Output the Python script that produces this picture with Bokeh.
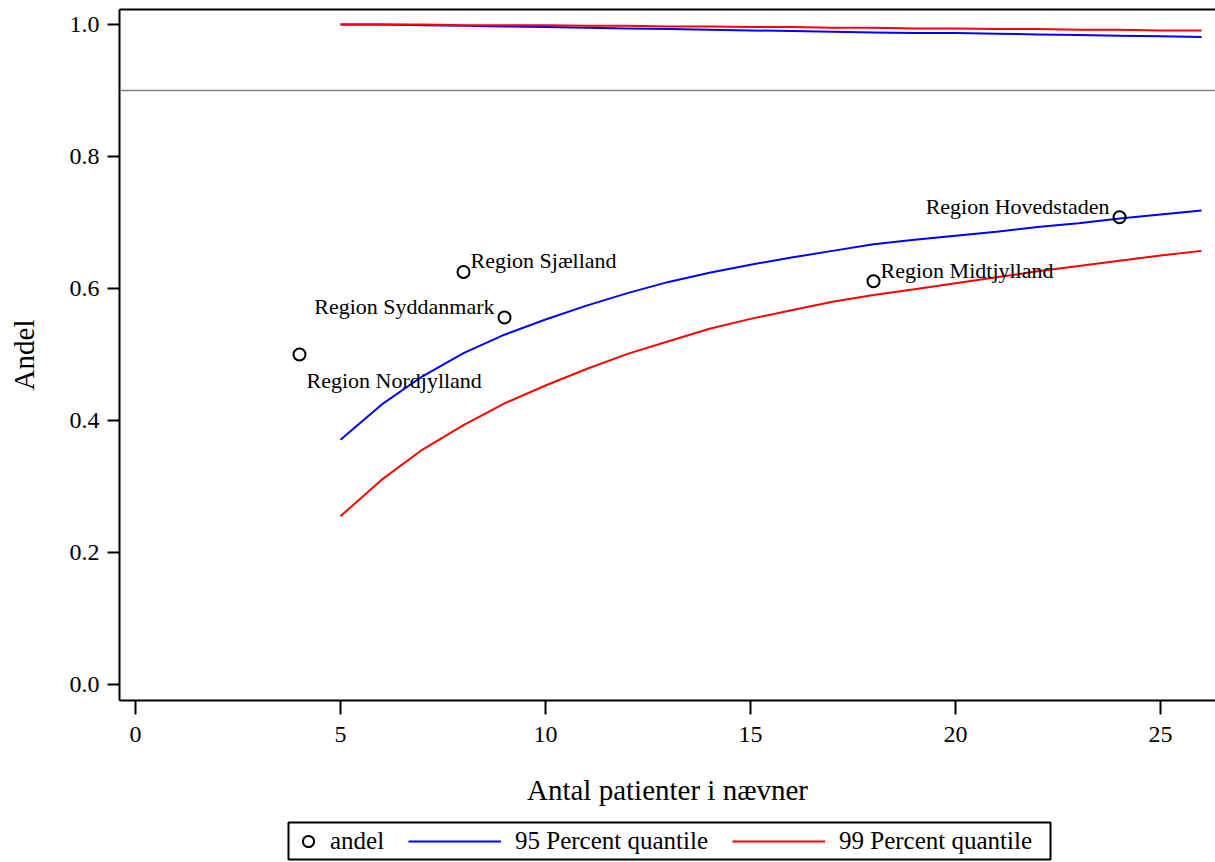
from bokeh.plotting import figure
from bokeh.layouts import column
from bokeh.models import (Legend, LegendItem, Span, ColumnDataSource, FixedTicker,
                          NumeralTickFormatter, Range1d, BoxAnnotation, LinearAxis)
from bokeh.core.properties import value
from bokeh.embed import file_html
from bokeh.resources import INLINE

# ---- data ----
regions = ["Region Nordjylland", "Region Sjælland", "Region Syddanmark",
           "Region Midtjylland", "Region Hovedstaden"]
n_patients = [4, 8, 9, 18, 24]
andel = [0.500, 0.625, 0.556, 0.611, 0.708]
label_side = ["below_right", "above_right", "above_left", "above_right", "above_left"]

n_curve = [5, 6, 7, 8, 9, 10, 11, 12, 13, 14, 15, 16, 17, 18, 19, 20, 21, 22, 23, 24, 25, 26]
q95_lower = [0.371, 0.424, 0.467, 0.502, 0.530, 0.553, 0.574, 0.593, 0.610, 0.624, 0.636,
             0.647, 0.657, 0.667, 0.674, 0.680, 0.686, 0.693, 0.699, 0.706, 0.712, 0.718]
q99_lower = [0.255, 0.310, 0.356, 0.393, 0.426, 0.453, 0.478, 0.501, 0.520, 0.539, 0.554,
             0.567, 0.580, 0.590, 0.599, 0.608, 0.617, 0.626, 0.634, 0.642, 0.650, 0.657]
q95_upper = [1.000, 1.000, 0.999, 0.998, 0.997, 0.996, 0.995, 0.994, 0.993, 0.992, 0.991,
             0.990, 0.989, 0.988, 0.987, 0.987, 0.986, 0.985, 0.984, 0.983, 0.982, 0.981]
q99_upper = [1.000, 1.000, 1.000, 0.999, 0.999, 0.999, 0.998, 0.998, 0.997, 0.997, 0.996,
             0.996, 0.995, 0.995, 0.994, 0.994, 0.993, 0.993, 0.992, 0.992, 0.991, 0.991]
target = 0.9
legend_labels = ["andel", "95 Percent quantile", "99 Percent quantile"]
x_ticks = [0, 5, 10, 15, 20, 25]
y_ticks = [0.0, 0.2, 0.4, 0.6, 0.8, 1.0]

# ---- style ----
FONT = "Liberation Serif"
BLUE, RED = "#0000FF", "#FF0000"
LEFT = 119
side_style = {
    "below_right": (7, 26, "left"),
    "above_right": (7, -11, "left"),
    "above_left": (-10, -11, "right"),
}

p = figure(width=1215, height=812, output_backend="svg", toolbar_location=None,
           x_range=Range1d(-0.39, 26.34), y_range=Range1d(-0.0242, 1.0227),
           min_border_left=LEFT, min_border_right=0, min_border_top=9, min_border_bottom=112)
p.grid.visible = False
p.outline_line_color = None
xax = p.below[0]
yax = p.left[0]

p.add_layout(Span(location=target, dimension="width", line_color="#808080", line_width=1.5))

p.line(n_curve, q95_upper, line_color=BLUE, line_width=2)
p.line(n_curve, q99_upper, line_color=RED, line_width=2)
p.line(n_curve, q95_lower, line_color=BLUE, line_width=2)
p.line(n_curve, q99_lower, line_color=RED, line_width=2)

src = ColumnDataSource(dict(
    x=n_patients, y=andel, name=regions,
    dx=[side_style[s][0] for s in label_side],
    dy=[side_style[s][1] for s in label_side],
    align=[side_style[s][2] for s in label_side],
))
p.scatter("x", "y", source=src, marker="circle", size=12, fill_color=None,
          line_color="black", line_width=2)
p.text("x", "y", text="name", source=src, x_offset="dx", y_offset="dy",
       text_align="align", text_baseline="alphabetic",
       text_font=value(FONT), text_font_size="22px", text_color="black")

for ax in (xax, yax):
    ax.axis_line_width = 2
    ax.major_tick_line_width = 2
    ax.minor_tick_line_color = None
    ax.major_tick_in = 0
    ax.major_label_text_font = FONT
    ax.major_label_text_font_size = "24px"
    ax.axis_label_text_font = FONT
    ax.axis_label_text_font_size = "29px"
    ax.axis_label_text_font_style = "normal"
    ax.major_label_text_color = "black"
    ax.axis_label_text_color = "black"

xax.ticker = FixedTicker(ticks=x_ticks)
yax.ticker = FixedTicker(ticks=y_ticks)
yax.formatter = NumeralTickFormatter(format="0.0")
xax.major_tick_out = 14
yax.major_tick_out = 12
xax.major_label_standoff = 12
yax.major_label_standoff = 8
xax.axis_label = "Antal patienter i nævner"
yax.axis_label = "Andel"
xax.axis_label_standoff = 29
yax.axis_label_standoff = 27

# top frame line (no ticks, no labels)
top_axis = LinearAxis(ticker=FixedTicker(ticks=[]), axis_line_width=2,
                      major_tick_line_color=None, minor_tick_line_color=None,
                      major_label_standoff=0, major_tick_out=0, major_tick_in=0)
p.add_layout(top_axis, "above")

# ---- legend strip (pixel coordinates) ----
lg = figure(width=1215, height=50, output_backend="svg", toolbar_location=None,
            x_range=Range1d(LEFT, 1215), y_range=Range1d(0, 50),
            x_axis_type=None, y_axis_type=None,
            min_border_left=LEFT, min_border_right=0, min_border_top=0, min_border_bottom=0)
lg.title = None
lg.grid.visible = False
lg.outline_line_color = None
nan = float("nan")
pa = lg.scatter([nan], [nan], marker="circle", size=12, fill_color=None,
                line_color="black", line_width=2)
pb = lg.line([nan], [nan], line_color=BLUE, line_width=2)
pc = lg.line([nan], [nan], line_color=RED, line_width=2)

common = dict(orientation="horizontal", glyph_height=28, label_height=28,
              label_text_font=FONT, label_text_font_size="25px", label_text_color="black",
              padding=5, margin=0, border_line_color=None, background_fill_alpha=0)
legA = Legend(items=[LegendItem(label=legend_labels[0], renderers=[pa])],
              location=(294 - LEFT, 7), glyph_width=28, label_standoff=8, **common)
legB = Legend(items=[LegendItem(label=legend_labels[1], renderers=[pb]),
                     LegendItem(label=legend_labels[2], renderers=[pc])],
              location=(408 - LEFT, 7), glyph_width=93, label_standoff=14, spacing=24, **common)
lg.add_layout(legA)
lg.add_layout(legB)
lg.add_layout(BoxAnnotation(left=288, right=1050, bottom=3, top=40, fill_alpha=0,
                            line_color="black", line_alpha=1.0, line_width=2))

open("out.html", "w").write(file_html(column(p, lg, spacing=0), INLINE))
